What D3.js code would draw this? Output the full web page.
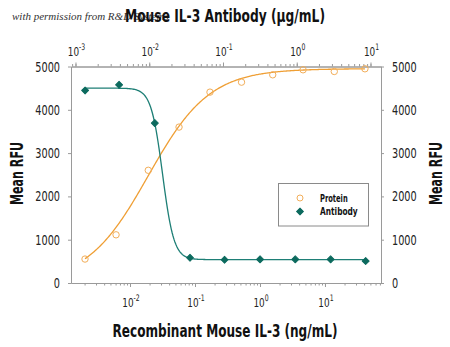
<!DOCTYPE html>
<html>
<head>
<meta charset="utf-8">
<script src="https://cdn.jsdelivr.net/npm/d3@7"></script>
<style>
  html, body { margin: 0; padding: 0; background: #fff; }
  svg { display: block; }
  .narrow { font-family: "Liberation Sans Narrow", "DejaVu Sans Condensed", "Roboto", sans-serif; font-stretch: condensed; }
</style>
</head>
<body>
<svg id="chart" width="450" height="347"></svg>
<script>
// ---- Data ----
const proteinConc = [0.00203, 0.0061, 0.0191, 0.0568, 0.170, 0.52, 1.57, 4.6, 13.9, 41.2];   // ng/mL (bottom axis)
const proteinRFU  = [553, 1113, 2603, 3601, 4408, 4638, 4808, 4924, 4885, 4947];
const antibodyConc = [0.00135, 0.0039, 0.0119, 0.0357, 0.105, 0.318, 0.955, 2.88, 8.6];     // µg/mL (top axis)
const antibodyRFU  = [4447, 4578, 3693, 583, 537, 546, 546, 546, 507];
// 4-parameter logistic fit parameters [bottom, top, log10 EC50, hill]
const proteinFit  = [0, 4950, -1.72, 0.92];
const antibodyFit = [540, 4500, -1.82, -5.6];
const yTicks = [0, 1000, 2000, 3000, 4000, 5000];
const bottomMajor = [-2, -1, 0, 1];
const topMajor = [-3, -2, -1, 0, 1];
const legendLabels = ["Protein", "Antibody"];

const orange = "#EF9F35", orangeLight = "#F2AE5A";
const teal = "#1E7F76", tealDark = "#0C6A5E";
const axisGray = "#9a9a9a";

const svg = d3.select("#chart");
const L = 71, R = 381, T = 66.5, B = 283;

const y = d3.scaleLinear().domain([0, 5000]).range([B, T]);
const xBot = d3.scaleLog().domain([Math.pow(10, -2.908), Math.pow(10, 1.862)]).range([L, R]);
const xTop = d3.scaleLog().domain([Math.pow(10, -3.061), Math.pow(10, 1.1424)]).range([L, R]);

function minorTicks(scale, decades) {
  const [d0, d1] = scale.domain();
  const out = [];
  decades.forEach(e => {
    for (let k = 1; k <= 9; k++) {
      const v = k * Math.pow(10, e);
      if (v >= d0 && v <= d1) out.push(v);
    }
  });
  return out;
}

// horizontally condensed text helper
function ctext(x, yy, str, size, opts = {}) {
  const t = svg.append("text").attr("class", "narrow")
    .attr("transform", `translate(${x},${yy}) rotate(${opts.rot || 0}) scale(${opts.sx || 1},1)`)
    .attr("text-anchor", opts.anchor || "start")
    .attr("font-size", size)
    .attr("font-weight", opts.bold ? "bold" : "normal")
    .attr("fill", opts.fill || "#222");
  if (str !== null) t.text(str);
  if (opts.len) t.attr("textLength", opts.len).attr("lengthAdjust", "spacingAndGlyphs");
  return t;
}

// watermark
svg.append("text")
  .attr("x", 12).attr("y", 19.5)
  .attr("font-family", "Liberation Serif, DejaVu Serif, serif")
  .attr("font-style", "italic")
  .attr("font-size", 11)
  .attr("fill", "#333")
  .text("with permission from R&D Systems");

// Title
ctext(225, 22, "Mouse IL-3 Antibody (µg/mL)", 18, { anchor: "middle", bold: true, fill: "#111", len: 200 });

// Axes
function styleAxis(g) {
  g.selectAll("path.domain").attr("stroke", axisGray).attr("stroke-width", 1);
  g.selectAll(".tick line").attr("stroke", axisGray);
  g.selectAll(".tick text").remove();
}

// bottom
const botMinorVals = minorTicks(xBot, [-3, -2, -1, 0, 1]);
svg.append("g").attr("transform", `translate(0,${B})`)
  .call(d3.axisBottom(xBot).tickValues(botMinorVals).tickSize(2.5).tickSizeOuter(0).tickFormat(""))
  .call(styleAxis);
svg.append("g").attr("transform", `translate(0,${B})`)
  .call(d3.axisBottom(xBot).tickValues(bottomMajor.map(e => Math.pow(10, e))).tickSize(4).tickSizeOuter(0).tickFormat(""))
  .call(styleAxis);

// top
const topMinorVals = minorTicks(xTop, [-4, -3, -2, -1, 0, 1]);
svg.append("g").attr("transform", `translate(0,${T})`)
  .call(d3.axisTop(xTop).tickValues(topMinorVals).tickSize(2.5).tickSizeOuter(0).tickFormat(""))
  .call(styleAxis);
svg.append("g").attr("transform", `translate(0,${T})`)
  .call(d3.axisTop(xTop).tickValues(topMajor.map(e => Math.pow(10, e))).tickSize(4).tickSizeOuter(0).tickFormat(""))
  .call(styleAxis);

// left/right
svg.append("g").attr("transform", `translate(${L},0)`)
  .call(d3.axisLeft(y).tickValues(yTicks).tickSize(3).tickSizeOuter(0))
  .call(styleAxis);
svg.append("g").attr("transform", `translate(${R},0)`)
  .call(d3.axisRight(y).tickValues(yTicks).tickSize(3).tickSizeOuter(0))
  .call(styleAxis);

// y tick labels
yTicks.forEach(v => {
  ctext(L - 11, y(v) + 5, String(v), 13.5, { anchor: "end", sx: 0.8 });
  ctext(R + 11, y(v) + 5, String(v), 13.5, { anchor: "start", sx: 0.8 });
});

// power labels
function powLabel(x, yBase, e) {
  const t = ctext(x, yBase, null, 13, { anchor: "middle", sx: 0.76 });
  t.append("tspan").text("10");
  t.append("tspan").attr("dy", -5.5).attr("font-size", 9).text(e < 0 ? "-" + (-e) : String(e));
}
bottomMajor.forEach(e => powLabel(xBot(Math.pow(10, e)) + 1, 306.5, e));
topMajor.forEach(e => powLabel(xTop(Math.pow(10, e)) + 1, 55.5, e));

// axis titles
ctext(225, 337, "Recombinant Mouse IL-3 (ng/mL)", 18, { anchor: "middle", bold: true, fill: "#111", len: 225 });
[[22.7, 173.5], [442, 173.5]].forEach(([tx, ty]) => {
  ctext(tx, ty, "Mean RFU", 18, { anchor: "middle", bold: true, fill: "#111", rot: -90, len: 63 });
});

// fitted curves (4PL)
function fourPL(p, c) {
  return p[0] + (p[1] - p[0]) / (1 + Math.pow(10, (p[2] - Math.log10(c)) * p[3]));
}
function curvePoints(conc, p) {
  const a = Math.log10(d3.min(conc)), b = Math.log10(d3.max(conc));
  return d3.range(0, 301).map(i => {
    const c = Math.pow(10, a + (b - a) * i / 300);
    return [c, fourPL(p, c)];
  });
}
const line = (xs) => d3.line().x(d => xs(d[0])).y(d => y(d[1]));

svg.append("path")
  .datum(curvePoints(proteinConc, proteinFit))
  .attr("fill", "none").attr("stroke", orange).attr("stroke-width", 1.3)
  .attr("d", line(xBot));
svg.append("path")
  .datum(curvePoints(antibodyConc, antibodyFit))
  .attr("fill", "none").attr("stroke", teal).attr("stroke-width", 1.3)
  .attr("d", line(xTop));

// markers
const diamond = d3.symbol().type(d3.symbolSquare).size(24);
svg.append("g").selectAll("path")
  .data(antibodyConc.map((c, i) => [c, antibodyRFU[i]]))
  .join("path")
  .attr("d", diamond)
  .attr("transform", d => `translate(${xTop(d[0])},${y(d[1])}) rotate(45)`)
  .attr("fill", tealDark).attr("stroke", tealDark).attr("stroke-width", 1).attr("stroke-linejoin", "round");

svg.append("g").selectAll("circle")
  .data(proteinConc.map((c, i) => [c, proteinRFU[i]]))
  .join("circle")
  .attr("cx", d => xBot(d[0])).attr("cy", d => y(d[1])).attr("r", 3.2)
  .attr("fill", "none").attr("stroke", orangeLight).attr("stroke-width", 1);

// legend
const lg = svg.append("g");
lg.append("rect").attr("x", 278.5).attr("y", 183.5).attr("width", 90).attr("height", 42.5)
  .attr("fill", "#fff").attr("stroke", "#8a8a8a").attr("stroke-width", 1);
lg.append("circle").attr("cx", 300).attr("cy", 198).attr("r", 3)
  .attr("fill", "none").attr("stroke", orangeLight).attr("stroke-width", 1);
lg.append("path").attr("d", diamond)
  .attr("transform", "translate(300,211.5) rotate(45)")
  .attr("fill", tealDark).attr("stroke", tealDark).attr("stroke-width", 1).attr("stroke-linejoin", "round");
const legendLens = [27.7, 37.7];
legendLabels.forEach((lab, i) => {
  ctext(320, 201.5 + i * 13.5, lab, 11, { bold: true, fill: "#111", len: legendLens[i] });
});
</script>
</body>
</html>
